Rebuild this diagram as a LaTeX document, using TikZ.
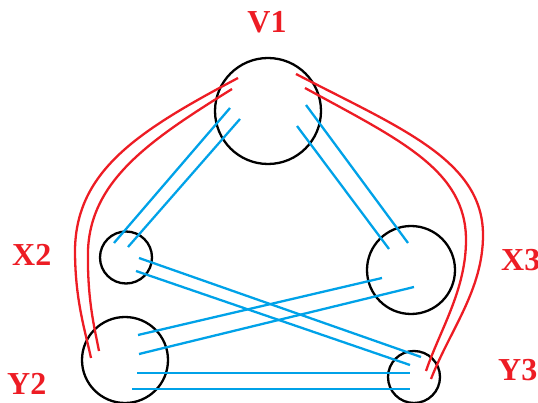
\documentclass[tikz,border=0pt]{standalone}
\usepackage{fontspec}
\setmainfont{Liberation Serif}
\definecolor{pred}{RGB}{237,28,36}
\definecolor{pblue}{RGB}{0,162,232}
\begin{document}
\begin{tikzpicture}[x=1pt,y=-1pt,
  vert/.style={circle,draw=black,line width=2.3pt,inner sep=0pt},
  lab/.style={text=pred,font=\fontsize{32}{32}\selectfont\bfseries,inner sep=0pt,anchor=base west},
  bl/.style={draw=pblue,line width=2.3pt},
  rd/.style={draw=pred,line width=2.3pt}]
\useasboundingbox (0,0) rectangle (538,403);
% vertices
\node[vert,minimum size=106pt] (V1) at (268,111) {};
\node[vert,minimum size=52pt] (X2) at (126,257.5) {};
\node[vert,minimum size=88pt] (X3) at (411,270) {};
\node[vert,minimum size=86pt] (Y2) at (125,360) {};
\node[vert,minimum size=52pt] (Y3) at (414,377) {};
% labels
\node[lab,anchor=base] (lV1) at (267,33) {V1};
\node[lab] (lX2) at (12,266) {X2};
\node[lab] (lY2) at (7,394) {Y2};
\node[lab] (lX3) at (501,271) {X3};
\node[lab] (lY3) at (498,380) {Y3};
% end coordinates
\coordinate (a1) at (230,108); \coordinate (a2) at (114,243);
\coordinate (b1) at (240,119); \coordinate (b2) at (128,247);
\coordinate (c1) at (306,105); \coordinate (c2) at (408,243);
\coordinate (d1) at (297,126); \coordinate (d2) at (389,249);
\coordinate (e1) at (139,258); \coordinate (e2) at (421,357);
\coordinate (f1) at (136,271); \coordinate (f2) at (410,365);
\coordinate (g1) at (382,278); \coordinate (g2) at (138,335);
\coordinate (h1) at (414,287); \coordinate (h2) at (139,354);
\coordinate (i1) at (137,373); \coordinate (i2) at (410,373);
\coordinate (j1) at (132,389); \coordinate (j2) at (410,389);
% blue connectors
\draw[bl] (a1) -- (a2);
\draw[bl] (b1) -- (b2);
\draw[bl] (c1) -- (c2);
\draw[bl] (d1) -- (d2);
\draw[bl] (e1) -- (e2);
\draw[bl] (f1) -- (f2);
\draw[bl] (g1) -- (g2);
\draw[bl] (h1) -- (h2);
\draw[bl] (i1) -- (i2);
\draw[bl] (j1) -- (j2);
% red connectors
\coordinate (r1) at (238,78); \coordinate (r2) at (91,358);
\coordinate (s1) at (232,89); \coordinate (s2) at (99,351);
\coordinate (t1) at (296,74); \coordinate (t2) at (431,379);
\coordinate (u1) at (305,88); \coordinate (u2) at (426,371);
\draw[rd] (r1) .. controls (140,130) and (76,170) .. (75,250) .. controls (75,300) and (85,330) .. (r2);
\draw[rd] (s1) .. controls (150,140) and (91,180) .. (88,250) .. controls (87,300) and (95,330) .. (s2);
\draw[rd] (t1) .. controls (400,128) and (483,160) .. (483,235) .. controls (483,290) and (450,330) .. (t2);
\draw[rd] (u1) .. controls (400,140) and (466,170) .. (466,240) .. controls (466,290) and (440,330) .. (u2);
\end{tikzpicture}
\end{document}
